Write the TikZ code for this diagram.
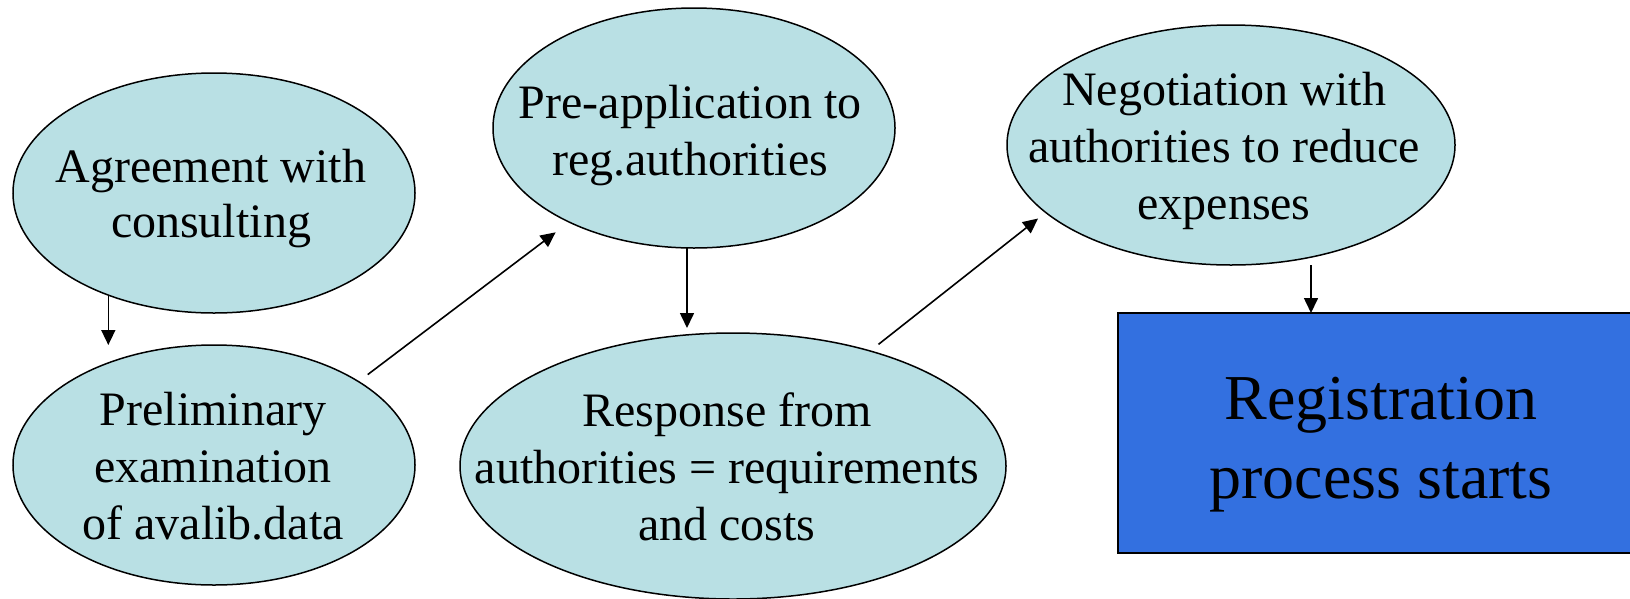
\documentclass[tikz,border=0pt]{standalone}
\usepackage{fontspec}
\setmainfont{Liberation Serif}
\usetikzlibrary{shapes.geometric,arrows.meta}
\definecolor{ellfill}{RGB}{185,224,228}
\definecolor{boxfill}{RGB}{51,112,224}
\newcommand{\mlines}[1]{\begin{tabular}[t]{@{}c@{}}#1\end{tabular}}
\tikzset{
  ell/.style={ellipse, draw=black, line width=1.5pt, fill=ellfill, inner sep=0pt, outer sep=0pt},
  lbl/.style={anchor=base, inner sep=0pt, font=\fontsize{48}{57}\selectfont},
  bigbox/.style={rectangle, draw=black, line width=2.2pt, fill=boxfill, inner sep=0pt, outer sep=0pt},
  arr/.style={line width=1.6pt, -{Triangle[length=15pt,width=14pt]}},
}
\begin{document}
\begin{tikzpicture}[x=1pt, y=-1pt]
\useasboundingbox (0,0) rectangle (1630,598);
\clip (0,0) rectangle (1630,598);
% shapes
\node[ell, minimum width=402pt, minimum height=240pt] (e1) at (214,193) {};
\node[ell, minimum width=402pt, minimum height=240pt] (e2) at (214,465) {};
\node[ell, minimum width=402pt, minimum height=240pt] (e3) at (694,128) {};
\node[ell, minimum width=546pt, minimum height=266pt] (e4) at (733,466) {};
\node[ell, minimum width=448pt, minimum height=240pt] (e5) at (1231,145) {};
\node[bigbox, minimum width=526pt, minimum height=240pt] (box) at (1381,433) {};
% texts
\node[lbl, font=\fontsize{48}{55}\selectfont] (t1) at (211,182) {\mlines{Agreement with\\consulting}};
\node[lbl] (t2) at (213,425) {\mlines{Preliminary\\examination\\of avalib.data}};
\node[lbl] (t3) at (690,118) {\mlines{Pre-application to\\reg.authorities}};
\node[lbl] (t4) at (727,426) {\mlines{Response from\\authorities = requirements\\and costs}};
\node[lbl] (t5) at (1224,105) {\mlines{Negotiation with\\authorities to reduce\\expenses}};
\node[lbl, font=\fontsize{64}{79}\selectfont] (t6) at (1381,419) {\mlines{Registration\\process starts}};
% connectors
\draw[arr] (e1.224.6) -- (e1.224.6 |- e2.north);
\draw[arr, shorten <=11.6pt, shorten >=17pt] (e2.30.47) -- (e3.217.5);
\draw[arr, shorten >=5pt] ([xshift=-7pt]e3.south) -- ([xshift=-7pt]e3.south |- e4.north);
\draw[arr, shorten <=10.7pt, shorten >=9.8pt] (e4.40.1) -- (e5.200.5);
\draw[arr] ([xshift=80pt]e5.south) -- ([xshift=80pt]e5.south |- box.north);
\end{tikzpicture}
\end{document}
